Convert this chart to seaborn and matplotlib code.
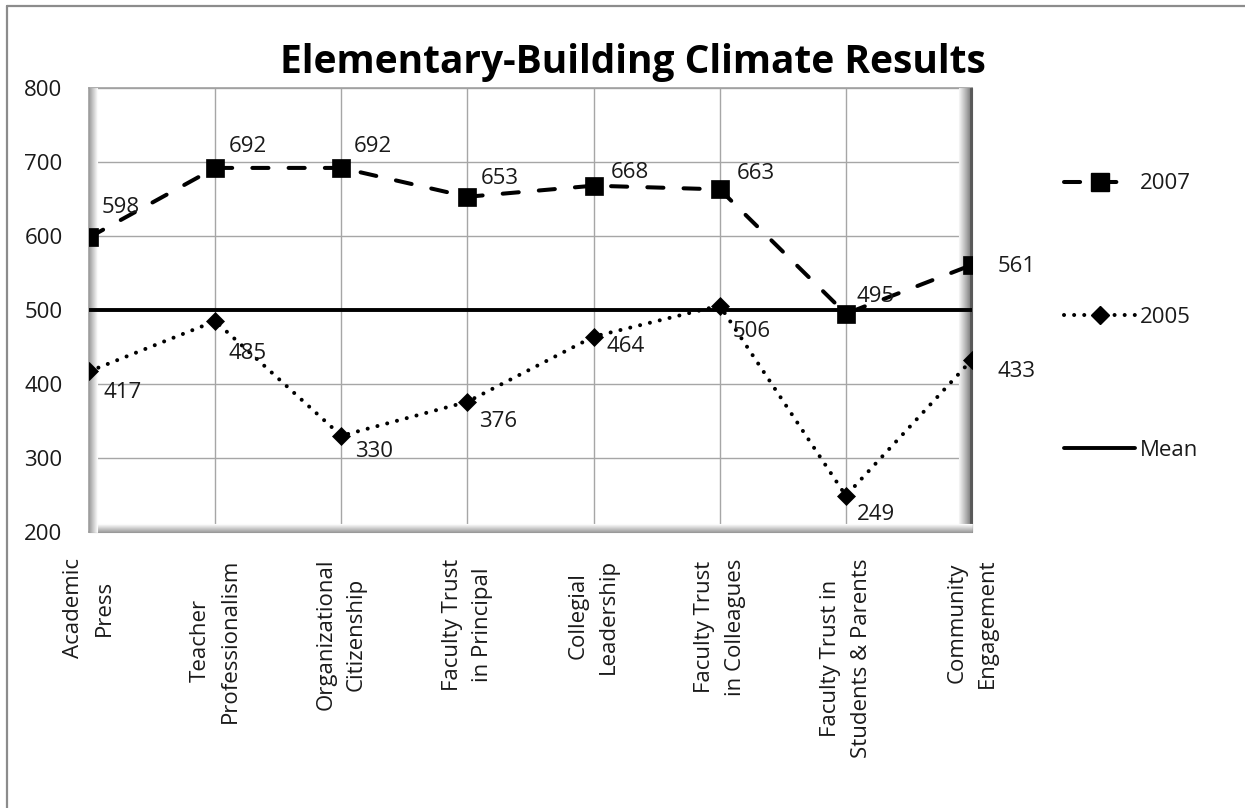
import matplotlib
matplotlib.use("Agg")
import matplotlib.pyplot as plt
import matplotlib.transforms as mtransforms
from matplotlib.lines import Line2D
import seaborn as sns
import pandas as pd

# ---------------- data ----------------
categories = ["Academic\nPress", "Teacher\nProfessionalism", "Organizational\nCitizenship",
              "Faculty Trust\nin Principal", "Collegial\nLeadership", "Faculty Trust\nin Colleagues",
              "Faculty Trust in\nStudents & Parents", "Community\nEngagement"]
values_2007 = [598, 692, 692, 653, 668, 663, 495, 561]
values_2005 = [417, 485, 330, 376, 464, 506, 249, 433]
values_mean = [500, 500, 500, 500, 500, 500, 500, 500]
series_names = ["2007", "2005", "Mean"]
title = "Elementary-Building Climate Results"
y_ticks = [200, 300, 400, 500, 600, 700, 800]

# label offsets (pixels: dx right, dy down)
off_2007 = [(13, -30), (14, -21), (12, -21), (13, -18), (17, -13), (17, -16), (11, -17), (26, 2)]
off_2005 = [(15, 21), (13, 32), (14, 16), (12, 20), (13, 10), (13, 26), (11, 19), (26, 12)]

sns.set_style("white")
plt.rcParams["font.family"] = ["Open Sans", "DejaVu Sans"]
TXT = "#1a1a1a"
FS = 16

W, H = 1245, 808
fig = plt.figure(figsize=(W / 100, H / 100), dpi=100)
ax = fig.add_axes([89 / W, 1 - 532 / H, 883 / W, 444 / H])

pos = list(range(len(categories)))
df = pd.DataFrame({"pos": pos, "v2007": values_2007, "v2005": values_2005, "mean": values_mean})

lw = 2.9
sns.lineplot(data=df, x="pos", y="v2007", ax=ax, color="black", lw=lw,
             linestyle=(0, (4.0, 5.0)), dash_capstyle="round",
             marker="s", markersize=13.5, markeredgewidth=0.5, markeredgecolor="black", zorder=5)
sns.lineplot(data=df, x="pos", y="v2005", ax=ax, color="black", lw=lw,
             linestyle=(0, (0.01, 2.5)), dash_capstyle="round",
             marker="D", markersize=9, markeredgewidth=0.5, markeredgecolor="black", zorder=5)
sns.lineplot(data=df, x="pos", y="mean", ax=ax, color="black", lw=2.8, zorder=4)

ax.set_xlim(0, len(categories) - 1)
ax.set_ylim(200, 800)
ax.set_yticks(y_ticks)
ax.set_xticks(pos)
ax.set_xticklabels(categories, rotation=90, va="top", ha="center",
                   multialignment="center", linespacing=1.6)
ax.set_xlabel("")
ax.set_ylabel("")
ax.tick_params(axis="both", length=0, labelsize=FS, labelcolor=TXT)
ax.tick_params(axis="y", pad=19)
ax.tick_params(axis="x", pad=19)
ax.grid(True, color="#a6a6a6", lw=1.0)
ax.set_axisbelow(True)
for s in ax.spines.values():
    s.set_color("#a0a0a0")
    s.set_linewidth(1.2)

# data labels
for i, v in enumerate(values_2007):
    dx, dy = off_2007[i]
    ax.annotate(str(v), (pos[i], v), xytext=(dx * 0.72, -dy * 0.72), textcoords="offset points",
                ha="left", va="center", fontsize=FS, color=TXT, zorder=6)
for i, v in enumerate(values_2005):
    dx, dy = off_2005[i]
    ax.annotate(str(v), (pos[i], v), xytext=(dx * 0.72, -dy * 0.72), textcoords="offset points",
                ha="left", va="center", fontsize=FS, color=TXT, zorder=6)

# bevel / shadow effect on plot area frame
def px_shift(dx, dy):
    return ax.transAxes + mtransforms.ScaledTranslation(dx / 100, dy / 100, fig.dpi_scale_trans)

for i in range(14):
    g = 0.35 + 0.6 * (i / 13) ** 0.8 if i > 2 else 0.35
    ax.add_line(Line2D([1, 1], [0, 1], transform=px_shift(-i, 0), color=str(min(g, 0.98)),
                       lw=0.8, clip_on=False, zorder=3))
for i in range(9):
    g = 0.6 + 0.38 * i / 8
    ax.add_line(Line2D([0, 1], [0, 0], transform=px_shift(0, i), color=str(g),
                       lw=0.8, clip_on=False, zorder=3))
for i in range(9):
    g = 0.62 + 0.36 * i / 8
    ax.add_line(Line2D([0, 0], [0, 1], transform=px_shift(i, 0), color=str(g),
                       lw=0.8, clip_on=False, zorder=3))

# legend
handles = [Line2D([], [], color="black", lw=lw, linestyle=(0, (4.0, 5.0)), dash_capstyle="round",
                  marker="s", markersize=13.5),
           Line2D([], [], color="black", lw=lw, linestyle=(0, (0.01, 2.5)), dash_capstyle="round",
                  marker="D", markersize=9),
           Line2D([], [], color="black", lw=2.8)]
leg = fig.legend(handles, series_names, loc="center left", bbox_to_anchor=(1053 / W, 1 - 317 / H),
                 frameon=False, fontsize=FS, labelcolor=TXT, numpoints=1,
                 handlelength=3.2, handletextpad=0.2, labelspacing=5.05, borderpad=0)

# title
fig.text(633 / W, 1 - 62 / H, title, ha="center", va="center", fontsize=28,
         fontweight="bold", color="black")

# outer chart border (top & left)
fig.add_artist(Line2D([7 / W, 7 / W], [0, 1 - 6 / H], transform=fig.transFigure, color="#8c8c8c", lw=1.6))
fig.add_artist(Line2D([7 / W, 1], [1 - 6 / H, 1 - 6 / H], transform=fig.transFigure, color="#8c8c8c", lw=1.6))

fig.savefig("out.png", dpi=100)
